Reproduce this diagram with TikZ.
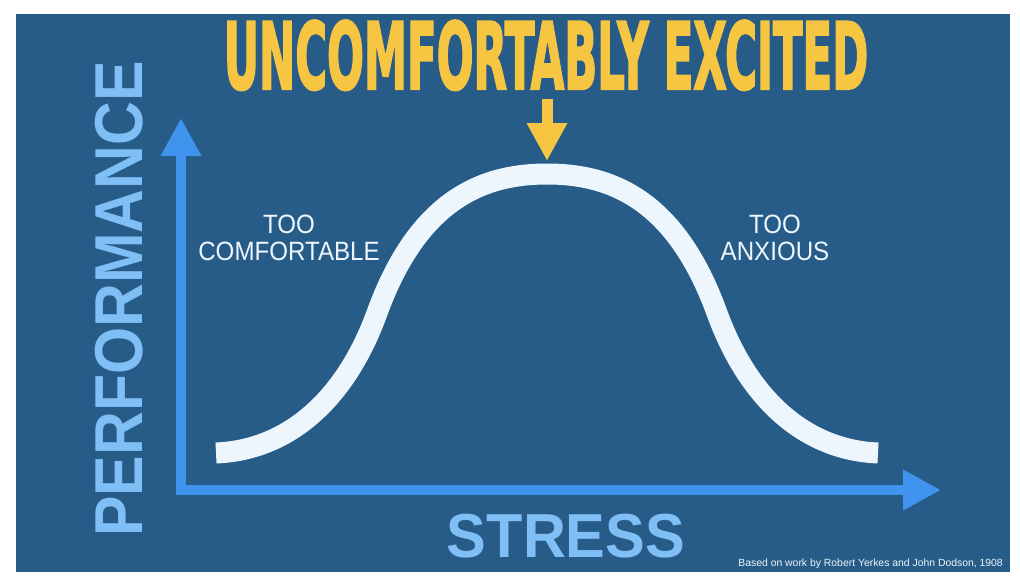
\documentclass[tikz,border=0pt]{standalone}
\usepackage{fontspec}
\usepackage{xcolor}
\usepackage{graphicx}
\usepackage{tikz}
\usetikzlibrary{arrows.meta}
\setmainfont{Liberation Sans}
\newfontfamily\headfont[FakeBold=2.5]{DejaVu Sans Condensed}
\newfontfamily\notefont[FakeStretch=0.91]{Liberation Sans}
\definecolor{slide}{RGB}{38,92,135}
\definecolor{axisblue}{RGB}{64,148,238}
\definecolor{labelblue}{RGB}{128,190,246}
\definecolor{sunyellow}{RGB}{246,197,66}
\definecolor{curvewhite}{RGB}{238,246,253}

\begin{document}
\begin{tikzpicture}[
    x=1pt,y=-1pt,
    axis/.style={draw=axisblue,line width=10pt,line join=miter,
      {Triangle[length=38pt,width=38pt]}-{Triangle[length=38pt,width=38pt]}},
    big/.style={text=labelblue,inner sep=0pt,font=\bfseries},
    zone/.style={text=curvewhite,inner sep=0pt,align=center,anchor=north,
      font=\notefont\fontsize{26.5}{27.7}\selectfont}
  ]
    \useasboundingbox (0,0) rectangle (1020,584);
    \fill[slide] (16,14) rectangle (1010,572);

    \coordinate (ytip) at (181,118);
    \coordinate (origin) at (181,490);
    \coordinate (xtip) at (941,490);
    \draw[axis] (ytip) -- (origin) -- (xtip);

    % bell curve
    \coordinate (peak) at (547,174);
    \draw[curvewhite,line width=21pt]
      (216,453) .. controls (290,450) and (346.2,397.6) .. (377,313)
      .. controls (418,200.2) and (482,174) .. (peak)
      .. controls (612,174) and (676,200.2) .. (717,313)
      .. controls (747.8,397.6) and (804,450) .. (878,453);

    \node[inner sep=0pt,text=sunyellow,font=\headfont\bfseries] (title) at (546,55.3)
      {\resizebox*{644pt}{70pt}{UNCOMFORTABLY EXCITED}};
    \coordinate (arrowtop) at (547,99);
    \coordinate (arrowtip) at (547,161);
    \draw[sunyellow,line width=11pt,-{Triangle[length=38pt,width=38pt]}] (arrowtop) -- (arrowtip);

    \node[big,rotate=90] (perf) at (119,299) {\resizebox*{475pt}{48pt}{PERFORMANCE}};
    \node[big] (stress) at (566,536) {\resizebox*{238pt}{44pt}{STRESS}};

    \node[zone] (comfy) at (289,214.5) {TOO\\COMFORTABLE};
    \node[zone] (anxious) at (775,214.5) {TOO\\ANXIOUS};

    \node[anchor=base east,inner sep=0pt,text=curvewhite,font=\fontsize{10.4}{12}\selectfont]
      (credit) at (1003,566.7) {Based on work by Robert Yerkes and John Dodson, 1908};
  \end{tikzpicture}
\end{document}
